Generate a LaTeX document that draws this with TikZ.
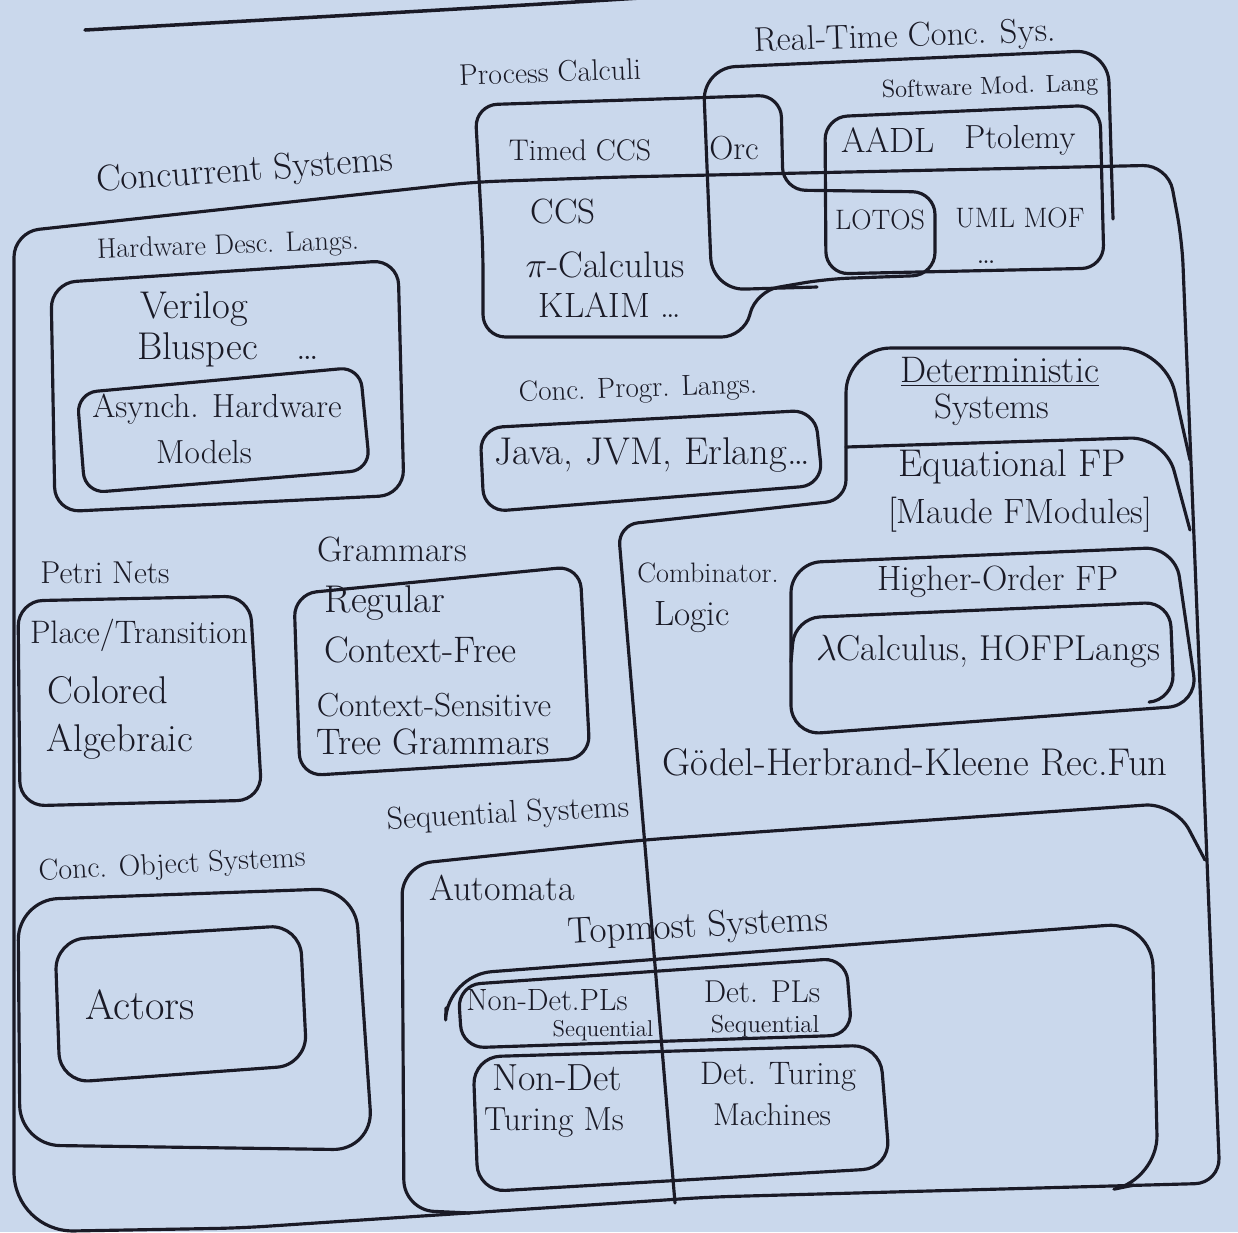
\documentclass[tikz,border=0pt]{standalone}
\usepackage{tikz}
\usepackage{xcolor}

\definecolor{paper}{RGB}{202,216,236}
\definecolor{ink}{RGB}{26,26,38}

\begin{document}
\begin{tikzpicture}[x=0.02cm,y=-0.02cm,
        region/.style={draw=ink,line width=1.8pt,line join=round,line cap=round},
        txt/.style={text=ink,inner sep=0pt,font=\fontsize{19}{21}\selectfont},
        fsz/.style={font=\fontsize{#1}{#1}\selectfont}]

        % paper
        \fill[paper] (0,0) rectangle (1238,1232);
        \useasboundingbox (0,0) rectangle (1238,1232);

        % title underline (text cut off)
        \draw[region,line width=2pt] (85,30) .. controls (300,18) and (480,8) .. (640,-2);

        % concurrent systems
        \draw[region] (14,700) [rounded corners=0.5cm] -- (14,232) -- (474,182) -- (620,177)
              -- (1168,165) -- (1182,240) -- (1220,1183) -- (710,1197) -- (240,1228)
              [rounded corners=1.2cm] -- (14,1232) -- cycle;
        \node[txt,fsz=21,rotate=4] (conc) at (245,172) {Concurrent Systems};

        % process calculi
        \draw[region,rounded corners=0.45cm] (483,250) -- (483,337) -- (744,337) -- (756,291)
              -- (826,279) -- (935,275) -- (935,192) -- (783,190) -- (781,95) -- (475,105) -- cycle;
        \node[txt,fsz=17,rotate=2] (proc) at (550,72) {Process Calculi};
        \node[txt,fsz=17] (tccs) at (580,150) {Timed CCS};
        \node[txt,fsz=20] (ccs) at (563,211) {CCS};
        \node[txt,fsz=21] (pical) at (605,265) {$\pi$-Calculus};
        \node[txt,fsz=20] (klaim) at (610,305) {KLAIM \dots};

        % real-time conc. systems
        \draw[region,rounded corners=0.65cm] (817,287) -- (712,290) -- (703,68) -- (1108,50) -- (1113,219);
        \node[txt,fsz=19.5,rotate=2] (rtcs) at (905,38) {Real-Time Conc. Sys.};
        \node[txt] (orc) at (734,148) {Orc};

        % software modelling langs
        \draw[region,rounded corners=0.45cm] (825,117) -- (1100,105) -- (1104,268) -- (826,274) -- cycle;
        \node[txt,fsz=14,rotate=2] (swml) at (990,88) {Software Mod. Lang};
        \node[txt,fsz=20] (aadl) at (888,140) {AADL};
        \node[txt] (ptol) at (1020,140) {Ptolemy};
        \node[txt,fsz=16] (lotos) at (880,220) {LOTOS};
        \node[txt,fsz=16] (uml) at (1020,218) {UML MOF};
        \node[txt] (swdots) at (986,262) {\dots};

        % hardware description langs
        \draw[region,rounded corners=0.5cm] (51,283) -- (398,260) -- (404,495) -- (55,512) -- cycle;
        \draw[region,rounded corners=0.4cm] (77,393) -- (360,367) -- (370,470) -- (85,493) -- cycle;
        \node[txt,fsz=16,rotate=2] (hdl) at (228,247) {Hardware Desc. Langs.};
        \node[txt,fsz=22] (veri) at (194,309) {Verilog};
        \node[txt,fsz=22] (blus) at (228,350) {Bluspec\quad\dots};
        \node[txt] (async) at (217,409) {Asynch. Hardware};
        \node[txt] (models) at (204,452) {Models};

        % conc. programming langs
        \draw[region,rounded corners=0.45cm] (480,428) -- (815,410) -- (823,485) -- (484,512) -- cycle;
        \node[txt,fsz=16.5,rotate=2] (cpl) at (638,390) {Conc. Progr. Langs.};
        \node[txt,fsz=22] (java) at (652,455) {Java, JVM, Erlang\dots};

        % deterministic systems
        \draw[region] (675,1203) [rounded corners=0.4cm] -- (618,525) -- (846,500)
              [rounded corners=0.9cm] -- (846,348) -- (1165,348) -- (1190,460);
        \node[txt,fsz=21] (det) at (1000,372) {\underline{Deterministic}};
        \node[txt,fsz=20] (detsys) at (992,410) {Systems};

        % equational FP
        \draw[region,rounded corners=0.7cm] (846,447) -- (1165,437) -- (1190,530);
        \node[txt,fsz=22] (eqfp) at (1012,467) {Equational FP};
        \node[txt,fsz=20] (maude) at (1020,515) {[Maude FModules]};
        \node[txt,fsz=16] (comb) at (708,573) {Combinator.};
        \node[txt,fsz=20] (logic) at (692,617) {Logic};

        % higher-order FP
        \draw[region,rounded corners=0.6cm] (791,563) -- (1175,547) -- (1198,705) -- (791,735) -- cycle;
        \draw[region,rounded corners=0.5cm] (791,662) -- (795,618) -- (1170,602) -- (1174,700) -- (1150,702);
        \node[txt,fsz=20] (hofp) at (998,582) {Higher-Order FP};
        \node[txt,fsz=20.5] (lam) at (988,652) {$\lambda$Calculus, HOFPLangs};
        \node[txt,fsz=22] (godel) at (915,762) {G\"odel-Herbrand-Kleene Rec.Fun};

        % petri nets
        \draw[region,rounded corners=0.5cm] (18,601) -- (250,596) -- (262,800) -- (20,806) -- cycle;
        \node[txt,fsz=18] (petri) at (105,573) {Petri Nets};
        \node[txt,fsz=18.5] (place) at (139,635) {Place/Transition};
        \node[txt,fsz=22] (colored) at (108,690) {Colored};
        \node[txt,fsz=22] (algeb) at (120,742) {Algebraic};

        % grammars
        \draw[region,rounded corners=0.45cm] (294,594) -- (580,566) -- (590,758) -- (300,776) -- cycle;
        \node[txt,fsz=20] (gram) at (392,549) {Grammars};
        \node[txt,fsz=22] (regular) at (385,603) {Regular};
        \node[txt,fsz=21] (cfree) at (420,650) {Context-Free};
        \node[txt] (csens) at (434,705) {Context-Sensitive};
        \node[txt,fsz=21] (tree) at (433,742) {Tree Grammars};

        % conc. object systems
        \draw[region,rounded corners=0.8cm] (18,900) -- (355,888) -- (373,1150) -- (20,1145) -- cycle;
        \draw[region,rounded corners=0.6cm] (55,940) -- (300,925) -- (307,1065) -- (60,1083) -- cycle;
        \node[txt,fsz=17,rotate=3] (cos) at (172,866) {Conc. Object Systems};
        \node[txt,fsz=24] (actors) at (140,1005) {Actors};

        % sequential systems
        \draw[region,rounded corners=0.6cm] (470,1213) -- (404,1210) -- (402,865) -- (642,840)
              -- (1175,803) -- (1205,860);
        \node[txt,fsz=18,rotate=3] (seqs) at (508,815) {Sequential Systems};
        \node[txt,fsz=20.5] (autom) at (502,888) {Automata};

        % topmost systems
        \draw[region,rounded corners=0.9cm] (446,1008) -- (447,975) -- (1152,922) -- (1158,1180) -- (1134,1185);
        \node[txt,fsz=21,rotate=3] (topm) at (698,928) {Topmost Systems};

        % PLs and Turing machines
        \draw[region,rounded corners=0.45cm] (458,985) -- (846,958) -- (852,1035) -- (462,1048) -- cycle;
        \draw[region,rounded corners=0.55cm] (473,1057) -- (880,1045) -- (890,1168) -- (478,1192) -- cycle;
        \node[txt,fsz=17.5] (ndpl) at (547,1000) {Non-Det.PLs};
        \node[txt,fsz=13] (ndseq) at (603,1031) {Sequential};
        \node[txt,fsz=18] (dpl) at (762,992) {Det. PLs};
        \node[txt,fsz=14] (dseq) at (765,1026) {Sequential};
        \node[txt,fsz=21.5] (ndtm) at (557,1078) {Non-Det};
        \node[txt] (ndtm2) at (554,1122) {Turing Ms};
        \node[txt,fsz=18.5] (dtm) at (778,1077) {Det. Turing};
        \node[txt,fsz=18] (dtm2) at (772,1115) {Machines};
    \end{tikzpicture}
\end{document}
